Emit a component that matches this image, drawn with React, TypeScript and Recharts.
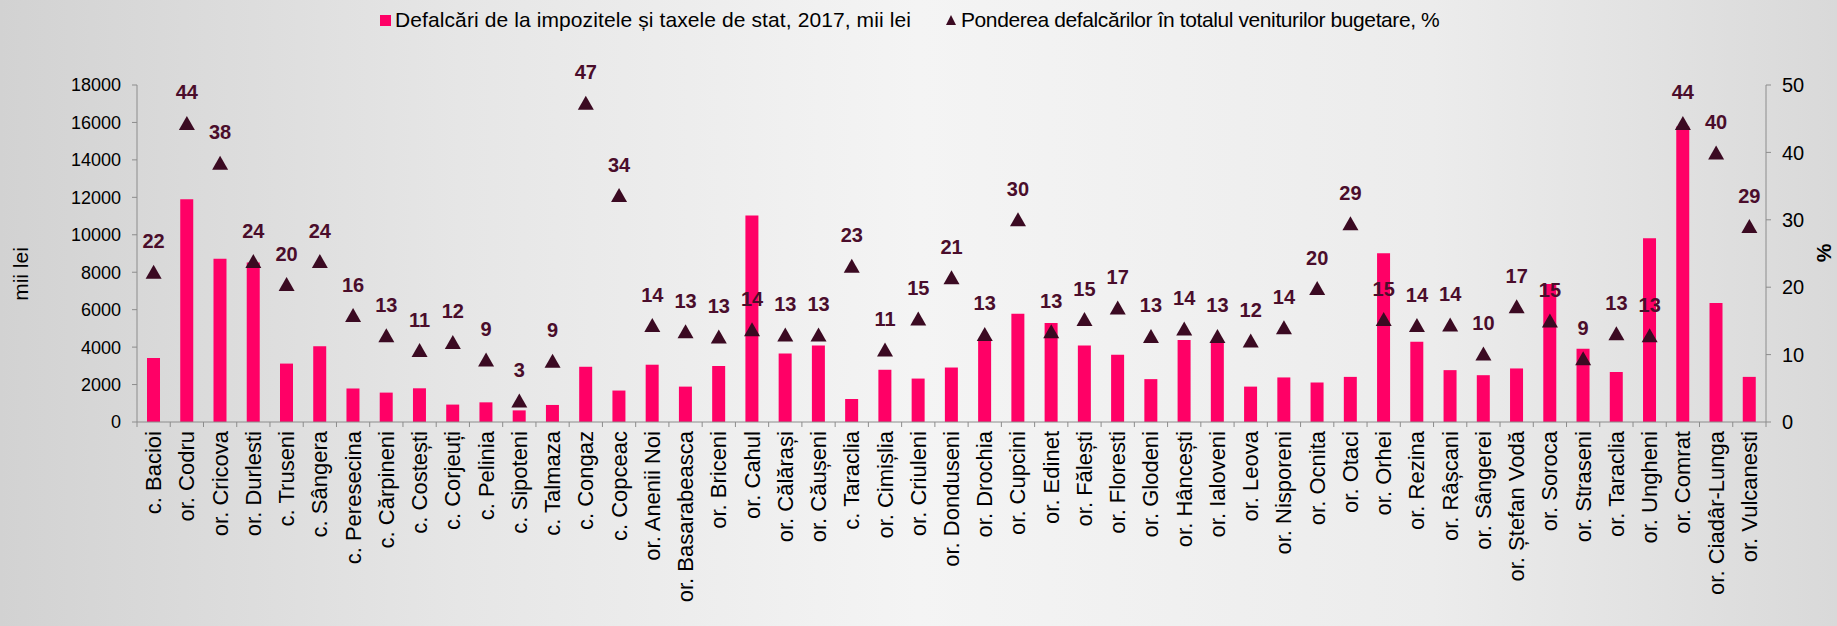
import { ComposedChart, Bar, Line, XAxis, YAxis, LabelList } from "recharts";

const categories = [
  "c. Bacioi", "or. Codru", "or. Cricova", "or. Durlesti", "c. Truseni", "c. Sângera", "c. Peresecina",
  "c. Cărpineni", "c. Costești", "c. Corjeuți", "c. Pelinia", "c. Sipoteni", "c. Talmaza", "c. Congaz",
  "c. Copceac", "or. Anenii Noi", "or. Basarabeasca", "or. Briceni", "or. Cahul", "or. Călărași",
  "or. Căușeni", "c. Taraclia", "or. Cimișlia", "or. Criuleni", "or. Donduseni", "or. Drochia",
  "or. Cupcini", "or. Edinet", "or. Fălești", "or. Floresti", "or. Glodeni", "or. Hâncești",
  "or. Ialoveni", "or. Leova", "or. Nisporeni", "or. Ocnita", "or. Otaci", "or. Orhei", "or. Rezina",
  "or. Râșcani", "or. Sângerei", "or. Ștefan Vodă", "or. Soroca", "or. Straseni", "or. Taraclia",
  "or. Ungheni", "or. Comrat", "or. Ciadâr-Lunga", "or. Vulcanesti",
];

// mii lei
const defalcari = [
  3420, 11900, 8720, 8520, 3120, 4050, 1790, 1570, 1800, 930, 1050, 620, 910, 2950,
  1680, 3060, 1890, 2990, 11030, 3660, 4090, 1230, 2790, 2320, 2910, 4400,
  5780, 5290, 4090, 3590, 2290, 4380, 4300, 1890, 2380, 2110, 2410, 9010, 4290,
  2770, 2500, 2860, 7370, 3910, 2670, 9820, 15780, 6350, 2410,
];

// %
const ponderea = [
  22.2, 44.3, 38.4, 23.8, 20.4, 23.8, 15.8, 12.8, 10.6, 11.8, 9.2, 3.1, 9.0, 47.3,
  33.6, 14.3, 13.4, 12.6, 13.7, 12.9, 12.9, 23.1, 10.7, 15.3, 21.4, 13.0,
  30.0, 13.4, 15.2, 16.9, 12.7, 13.8, 12.7, 12.0, 14.0, 19.8, 29.4, 15.2, 14.3,
  14.4, 10.1, 17.1, 15.0, 9.4, 13.1, 12.8, 44.3, 39.9, 29.0,
];

const leftTicks = [0, 2000, 4000, 6000, 8000, 10000, 12000, 14000, 16000, 18000];
const rightTicks = [0, 10, 20, 30, 40, 50];

const data = categories.map((name, i) => ({ name, value: defalcari[i], pct: ponderea[i] }));

const W = 1837;
const H = 626;
const PLOT_LEFT = 137;
const PLOT_RIGHT = 1766;
const BAND = (PLOT_RIGHT - PLOT_LEFT) / categories.length;
const AXIS_COLOR = "#8c8c8c";
const PINK = "#ff0066";
const MAROON = "#3b0a22";
const FONT = "'Liberation Sans', Arial, sans-serif";

const CategoryTick = (props: any) => {
  const { x, y, payload, index } = props;
  const ty = y + 9;
  return (
    <g>
      <line x1={x - BAND / 2} y1={y} x2={x - BAND / 2} y2={y + 5} stroke={AXIS_COLOR} />
      {index === categories.length - 1 && (
        <line x1={x + BAND / 2} y1={y} x2={x + BAND / 2} y2={y + 5} stroke={AXIS_COLOR} />
      )}
      <text
        x={x}
        y={ty}
        transform={`rotate(-90, ${x}, ${ty})`}
        textAnchor="end"
        dominantBaseline="central"
        fontSize={22}
        fontFamily={FONT}
        fill="#000"
      >
        {payload.value}
      </text>
    </g>
  );
};

const TriangleDot = (props: any) => {
  const { cx, cy, index } = props;
  if (cx == null || cy == null) return null;
  return (
    <path
      key={`tri-${index}`}
      d={`M${cx},${cy - 7.5} L${cx + 8},${cy + 6.5} L${cx - 8},${cy + 6.5} Z`}
      fill={MAROON}
    />
  );
};

export default function App() {
  return (
    <div
      style={{
        position: "absolute",
        left: 0,
        top: 0,
        width: W,
        height: H,
        background: "linear-gradient(to right, #d2d2d2 0%, #e6e6e6 25%, #f4f4f4 50%, #ececec 78%, #d9d9d9 100%)",
        overflow: "hidden",
      }}
    >
      <div
        style={{
          position: "absolute",
          left: 380,
          top: 8,
          display: "flex",
          alignItems: "center",
          fontFamily: FONT,
          fontSize: 21,
          color: "#000",
          whiteSpace: "nowrap",
        }}
      >
        <span style={{ display: "inline-block", width: 11, height: 11, background: PINK, marginRight: 4 }} />
        <span style={{ letterSpacing: 0.1 }}>Defalcări de la impozitele și taxele de stat, 2017, mii lei</span>
        <svg width={12} height={12} style={{ marginLeft: 34, marginRight: 4 }}>
          <path d="M6,1 L11,11 L1,11 Z" fill={MAROON} />
        </svg>
        <span style={{ letterSpacing: -0.4 }}>Ponderea defalcărilor în totalul veniturilor bugetare, %</span>
      </div>
      <div
        style={{
          position: "absolute",
          left: 21,
          top: 274,
          transform: "translate(-50%, -50%) rotate(-90deg)",
          fontFamily: FONT,
          fontSize: 21,
          whiteSpace: "nowrap",
        }}
      >
        mii lei
      </div>
      <div
        style={{
          position: "absolute",
          left: 1824,
          top: 253,
          transform: "translate(-50%, -50%) rotate(-90deg)",
          fontFamily: FONT,
          fontSize: 21,
          fontWeight: "bold",
        }}
      >
        %
      </div>
      <ComposedChart
        width={W}
        height={H}
        data={data}
        margin={{ top: 85, right: 0, bottom: 0, left: 0 }}
        barCategoryGap="30%"
      >
        <XAxis
          dataKey="name"
          interval={0}
          height={H - 422}
          tickLine={false}
          tickSize={0}
          tickMargin={0}
          axisLine={{ stroke: AXIS_COLOR }}
          tick={<CategoryTick />}
        />
        <YAxis
          yAxisId="left"
          width={PLOT_LEFT}
          domain={[0, 18000]}
          ticks={leftTicks}
          interval={0}
          axisLine={{ stroke: AXIS_COLOR }}
          tickLine={{ stroke: AXIS_COLOR }}
          tickSize={5}
          tickMargin={11}
          tick={{ fill: "#000", fontSize: 18, fontFamily: FONT }}
        />
        <YAxis
          yAxisId="right"
          orientation="right"
          width={W - PLOT_RIGHT}
          domain={[0, 50]}
          ticks={rightTicks}
          interval={0}
          axisLine={{ stroke: AXIS_COLOR }}
          tickLine={{ stroke: AXIS_COLOR }}
          tickSize={5}
          tickMargin={11}
          tick={{ fill: "#000", fontSize: 20, fontFamily: FONT }}
        />
        <Bar yAxisId="left" dataKey="value" fill={PINK} barSize={13} isAnimationActive={false} />
        <Line
          yAxisId="right"
          dataKey="pct"
          stroke="none"
          dot={TriangleDot}
          activeDot={false}
          isAnimationActive={false}
        >
          <LabelList
            dataKey="pct"
            position="top"
            offset={24}
            formatter={(v: any) => Math.round(Number(v))}
            fill="#4a0d2b"
            fontSize={20}
            fontWeight="bold"
            fontFamily={FONT}
          />
        </Line>
      </ComposedChart>
    </div>
  );
}
